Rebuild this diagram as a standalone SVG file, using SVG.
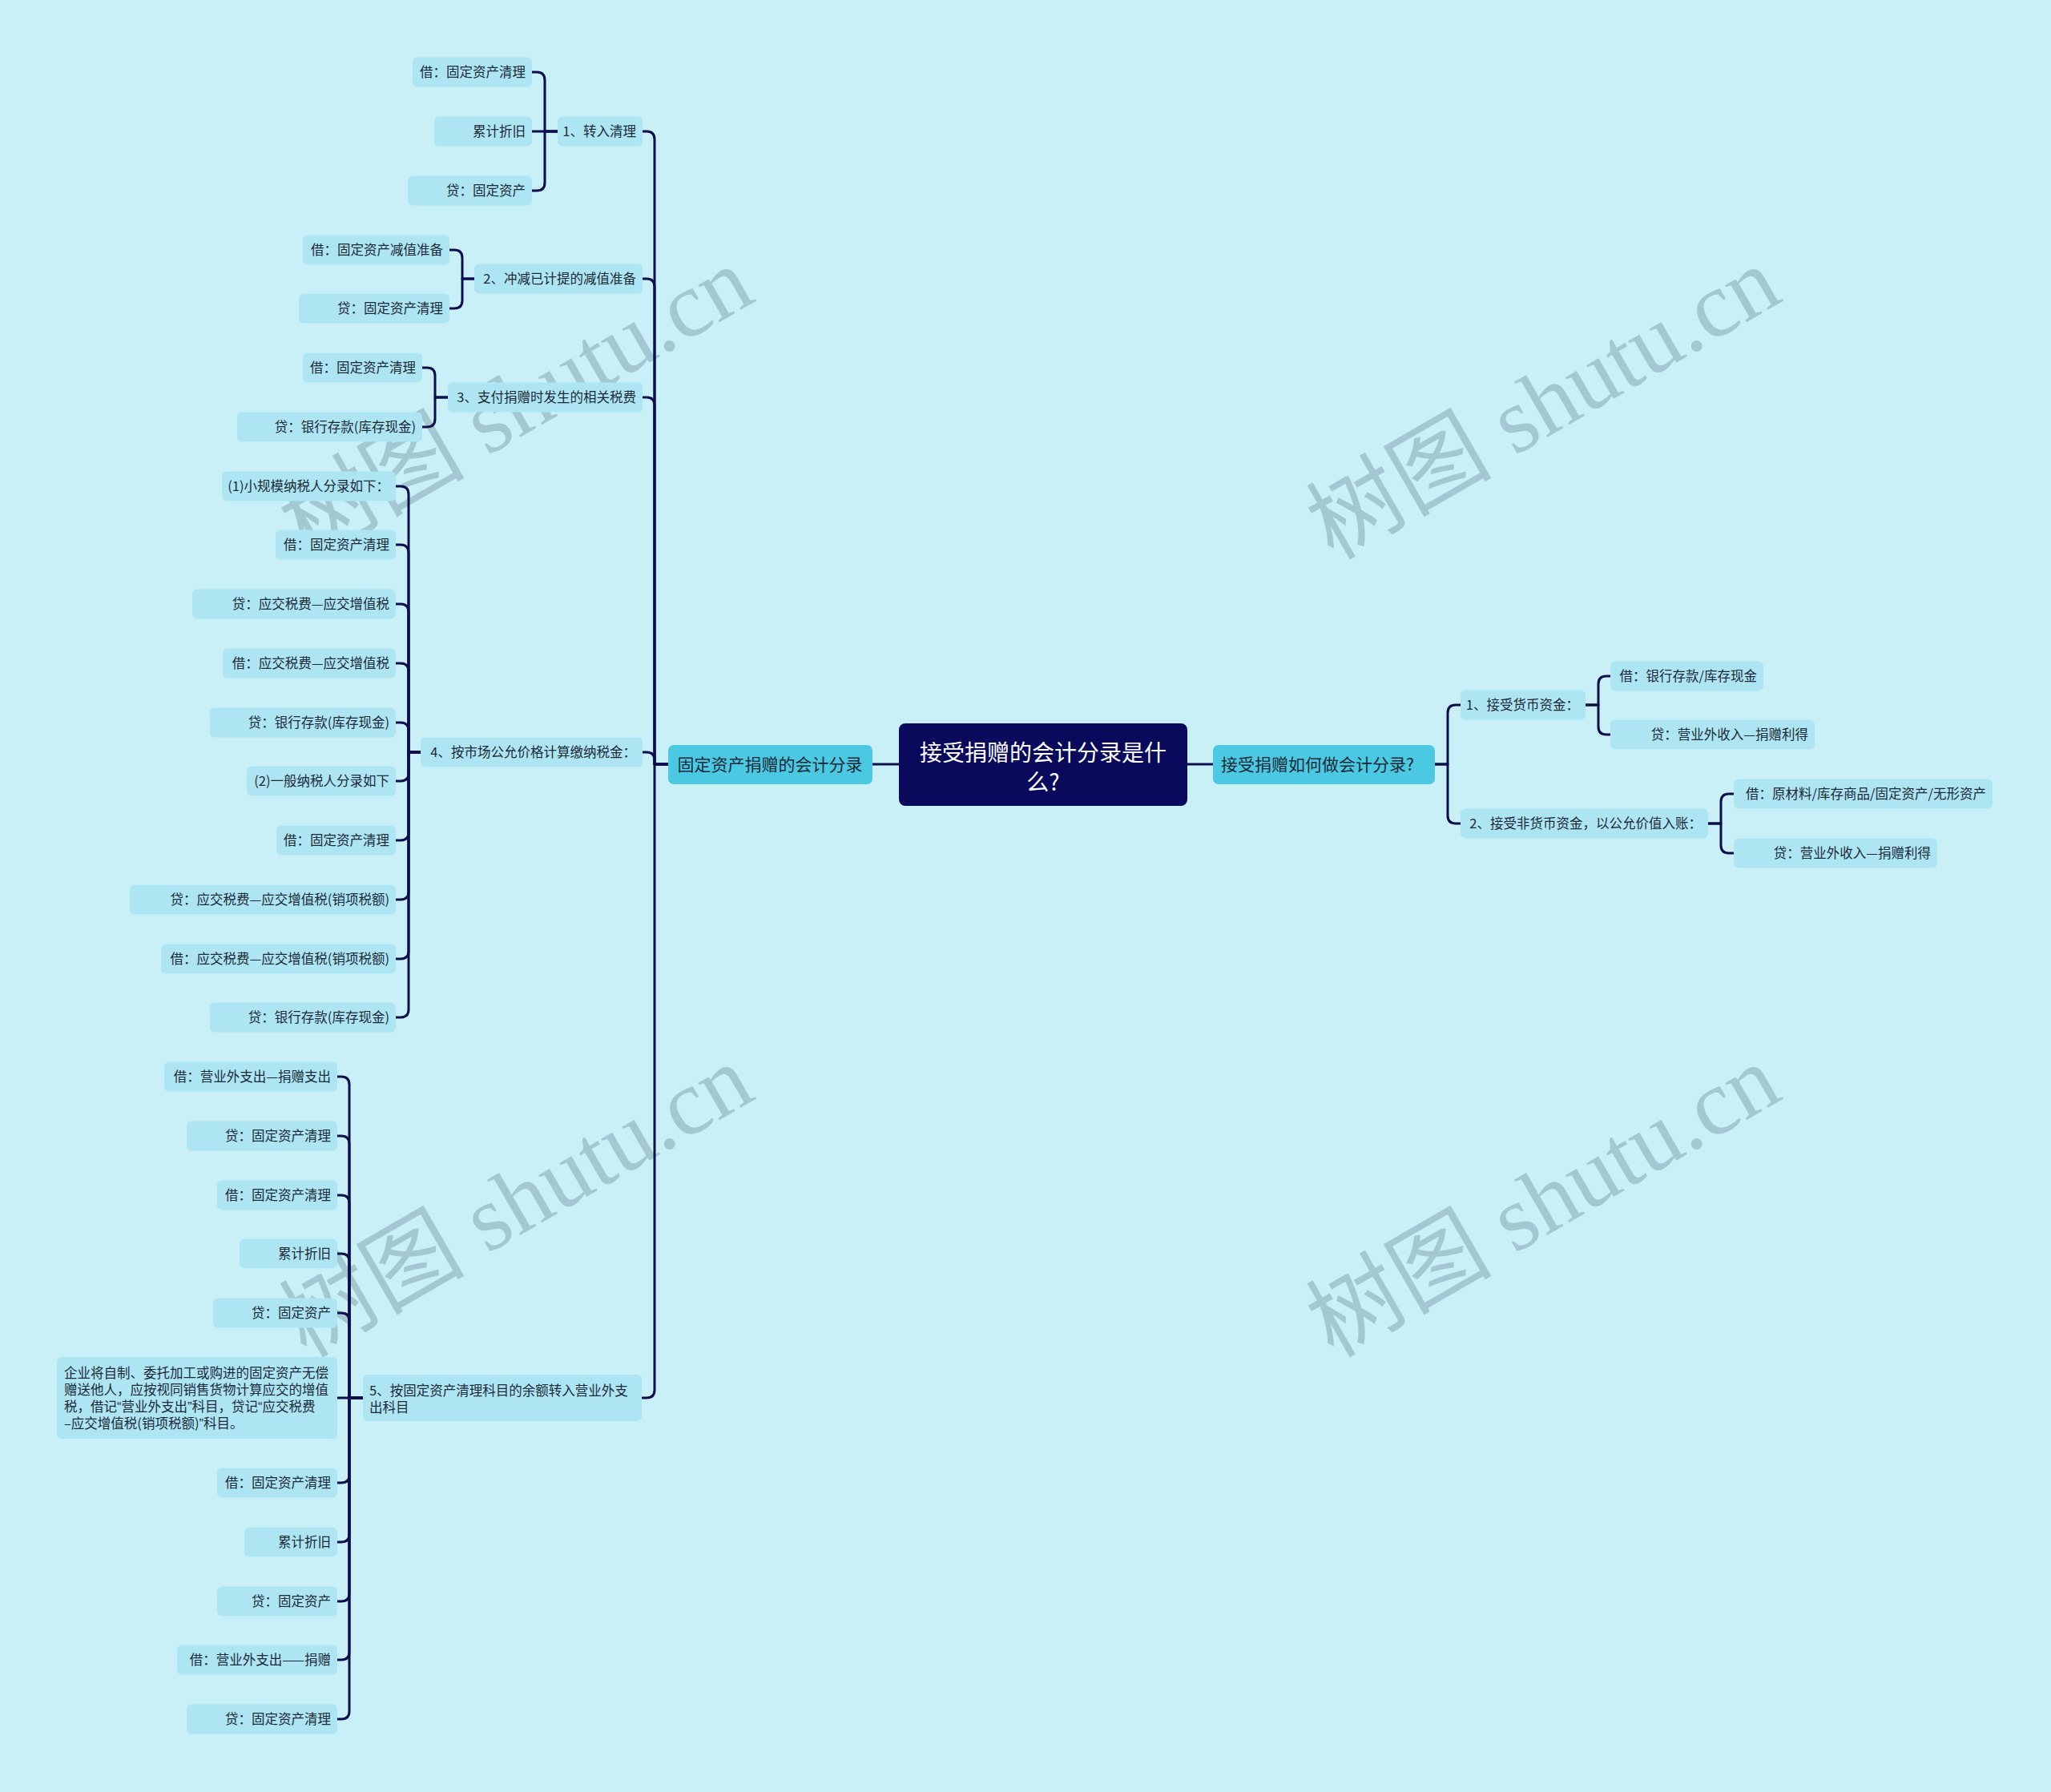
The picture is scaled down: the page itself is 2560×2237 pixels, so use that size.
<svg xmlns="http://www.w3.org/2000/svg" width="2560" height="2237" viewBox="0 0 2560 2237">
<style>
.bg{fill:#c9f0f7}
.leaf{fill:#aee5f2}
.l1{fill:#4cc9e2}
.root{fill:#0a0a5c}
.t{font-family:"Noto Sans CJK SC","Noto Sans",sans-serif;font-size:16.5px;fill:#1b2a38}
.te{text-anchor:end}
.q{font-family:"Liberation Sans",sans-serif}
.tl1{font-family:"Noto Sans CJK SC","Noto Sans",sans-serif;font-size:21px;fill:#1b2a38}
.tr{font-family:"Noto Sans CJK SC","Noto Sans",sans-serif;font-size:28px;fill:#ffffff;text-anchor:middle}
.c{fill:none;stroke:#0e0e4f;stroke-width:3;stroke-linecap:round;stroke-linejoin:round}
.wm{font-family:"Liberation Serif","Noto Sans CJK SC",serif;font-size:116px;fill:#a3c8d1}
</style>
<rect class="bg" x="0" y="0" width="2560" height="2237"/>

<g id="watermarks">
<text class="wm" x="382" y="700" transform="rotate(-30 382 700)">树图 shutu.cn</text>
<text class="wm" x="1664" y="700" transform="rotate(-30 1664 700)">树图 shutu.cn</text>
<text class="wm" x="382" y="1696" transform="rotate(-30 382 1696)">树图 shutu.cn</text>
<text class="wm" x="1664" y="1696" transform="rotate(-30 1664 1696)">树图 shutu.cn</text>
</g>

<g id="connectors">
<path class="c" d="M1089 954 H1122"/>
<path class="c" d="M1481 954 H1514"/>
<path class="c" d="M834 954 H817 V174 Q817 164 807 164 H802"/>
<path class="c" d="M834 954 H817 V358 Q817 348 807 348 H802"/>
<path class="c" d="M834 954 H817 V506 Q817 496 807 496 H802"/>
<path class="c" d="M834 954 H817 V949 Q817 939 807 939 H802"/>
<path class="c" d="M834 954 H817 V1735 Q817 1745 807 1745 H802"/>
<path class="c" d="M696 164 H680 V100 Q680 90 670 90 H664"/>
<path class="c" d="M696 164 H664"/>
<path class="c" d="M696 164 H680 V228 Q680 238 670 238 H664"/>
<path class="c" d="M592 348 H577 V322 Q577 312 567 312 H561"/>
<path class="c" d="M592 348 H577 V375 Q577 385 567 385 H561"/>
<path class="c" d="M559 496 H543 V469 Q543 459 533 459 H527"/>
<path class="c" d="M559 496 H543 V523 Q543 533 533 533 H527"/>
<path class="c" d="M525 939 H510 V617 Q510 607 500 607 H494"/>
<path class="c" d="M525 939 H510 V690 Q510 680 500 680 H494"/>
<path class="c" d="M525 939 H510 V764 Q510 754 500 754 H494"/>
<path class="c" d="M525 939 H510 V838 Q510 828 500 828 H494"/>
<path class="c" d="M525 939 H510 V912 Q510 902 500 902 H494"/>
<path class="c" d="M525 939 H510 V965 Q510 975 500 975 H494"/>
<path class="c" d="M525 939 H510 V1039 Q510 1049 500 1049 H494"/>
<path class="c" d="M525 939 H510 V1113 Q510 1123 500 1123 H494"/>
<path class="c" d="M525 939 H510 V1187 Q510 1197 500 1197 H494"/>
<path class="c" d="M525 939 H510 V1260 Q510 1270 500 1270 H494"/>
<path class="c" d="M453 1745 H436 V1354 Q436 1344 426 1344 H421"/>
<path class="c" d="M453 1745 H436 V1428 Q436 1418 426 1418 H421"/>
<path class="c" d="M453 1745 H436 V1502 Q436 1492 426 1492 H421"/>
<path class="c" d="M453 1745 H436 V1575 Q436 1565 426 1565 H421"/>
<path class="c" d="M453 1745 H436 V1649 Q436 1639 426 1639 H421"/>
<path class="c" d="M453 1745 H421"/>
<path class="c" d="M453 1745 H436 V1841 Q436 1851 426 1851 H421"/>
<path class="c" d="M453 1745 H436 V1915 Q436 1925 426 1925 H421"/>
<path class="c" d="M453 1745 H436 V1989 Q436 1999 426 1999 H421"/>
<path class="c" d="M453 1745 H436 V2062 Q436 2072 426 2072 H421"/>
<path class="c" d="M453 1745 H436 V2136 Q436 2146 426 2146 H421"/>
<path class="c" d="M1791 954 H1807 V890 Q1807 880 1817 880 H1823"/>
<path class="c" d="M1791 954 H1807 V1018 Q1807 1028 1817 1028 H1823"/>
<path class="c" d="M1979 880 H1995 V854 Q1995 844 2005 844 H2010"/>
<path class="c" d="M1979 880 H1995 V907 Q1995 917 2005 917 H2010"/>
<path class="c" d="M2132 1028 H2148 V1001 Q2148 991 2158 991 H2164"/>
<path class="c" d="M2132 1028 H2148 V1055 Q2148 1065 2158 1065 H2164"/>
</g>

<g id="root">
<rect class="root" x="1122" y="903" width="360" height="103" rx="8"/>
<text class="tr" x="1302" y="950">接受捐赠的会计分录是什</text>
<text class="tr" x="1302" y="987">么?</text>
</g>

<g id="n-left-l1">
<rect class="l1" x="834" y="930" width="255" height="49" rx="7"/>
<text class="tl1" x="961" y="962" text-anchor="middle">固定资产捐赠的会计分录</text>
</g>
<g id="n-right-l1">
<rect class="l1" x="1514" y="930" width="277" height="49" rx="7"/>
<text class="tl1" x="1524" y="962">接受捐赠如何做会计分录?</text>
</g>

<g id="a1"><rect class="leaf" x="696" y="145.5" width="106" height="37" rx="6"/><text class="t te" x="794" y="170">1、转入清理</text></g>
<g id="a2"><rect class="leaf" x="592" y="329.5" width="210" height="37" rx="6"/><text class="t te" x="794" y="354">2、冲减已计提的减值准备</text></g>
<g id="a3"><rect class="leaf" x="559" y="477.5" width="243" height="37" rx="6"/><text class="t te" x="794" y="502">3、支付捐赠时发生的相关税费</text></g>
<g id="a4"><rect class="leaf" x="525" y="920.5" width="277" height="37" rx="6"/><text class="t te" x="794" y="945">4、按市场公允价格计算缴纳税金：</text></g>
<g id="a5"><rect class="leaf" x="453" y="1716" width="348" height="58" rx="6"/>
<text class="t" x="461" y="1742">5、按固定资产清理科目的余额转入营业外支</text>
<text class="t" x="461" y="1763">出科目</text></g>

<g id="g1a"><rect class="leaf" x="515" y="71.5" width="149" height="37" rx="6"/><text class="t te" x="656" y="96">借：固定资产清理</text></g>
<g id="g1b"><rect class="leaf" x="542" y="145.5" width="122" height="37" rx="6"/><text class="t te" x="656" y="170">累计折旧</text></g>
<g id="g1c"><rect class="leaf" x="509" y="219.5" width="155" height="37" rx="6"/><text class="t te" x="656" y="244">贷：固定资产</text></g>

<g id="g2a"><rect class="leaf" x="378" y="293.5" width="183" height="37" rx="6"/><text class="t te" x="553" y="318">借：固定资产减值准备</text></g>
<g id="g2b"><rect class="leaf" x="373" y="366.5" width="188" height="37" rx="6"/><text class="t te" x="553" y="391">贷：固定资产清理</text></g>

<g id="g3a"><rect class="leaf" x="378" y="440.5" width="149" height="37" rx="6"/><text class="t te" x="519" y="465">借：固定资产清理</text></g>
<g id="g3b"><rect class="leaf" x="296" y="514.5" width="231" height="37" rx="6"/><text class="t te" x="519" y="539">贷：银行存款(库存现金)</text></g>

<g id="g4a"><rect class="leaf" x="277" y="588.5" width="217" height="37" rx="6"/><text class="t te" x="486" y="613">(1)小规模纳税人分录如下：</text></g>
<g id="g4b"><rect class="leaf" x="344" y="661.5" width="150" height="37" rx="6"/><text class="t te" x="486" y="686">借：固定资产清理</text></g>
<g id="g4c"><rect class="leaf" x="240" y="735.5" width="254" height="37" rx="6"/><text class="t te" x="486" y="760">贷：应交税费—应交增值税</text></g>
<g id="g4d"><rect class="leaf" x="278" y="809.5" width="216" height="37" rx="6"/><text class="t te" x="486" y="834">借：应交税费—应交增值税</text></g>
<g id="g4e"><rect class="leaf" x="262" y="883.5" width="232" height="37" rx="6"/><text class="t te" x="486" y="908">贷：银行存款(库存现金)</text></g>
<g id="g4f"><rect class="leaf" x="308" y="956.5" width="186" height="37" rx="6"/><text class="t te" x="486" y="981">(2)一般纳税人分录如下</text></g>
<g id="g4g"><rect class="leaf" x="345" y="1030.5" width="149" height="37" rx="6"/><text class="t te" x="486" y="1055">借：固定资产清理</text></g>
<g id="g4h"><rect class="leaf" x="162" y="1104.5" width="332" height="37" rx="6"/><text class="t te" x="486" y="1129">贷：应交税费—应交增值税(销项税额)</text></g>
<g id="g4i"><rect class="leaf" x="201" y="1178.5" width="293" height="37" rx="6"/><text class="t te" x="486" y="1203">借：应交税费—应交增值税(销项税额)</text></g>
<g id="g4j"><rect class="leaf" x="262" y="1251.5" width="232" height="37" rx="6"/><text class="t te" x="486" y="1276">贷：银行存款(库存现金)</text></g>

<g id="g5a"><rect class="leaf" x="205" y="1325.5" width="216" height="37" rx="6"/><text class="t te" x="413" y="1350">借：营业外支出—捐赠支出</text></g>
<g id="g5b"><rect class="leaf" x="233" y="1399.5" width="188" height="37" rx="6"/><text class="t te" x="413" y="1424">贷：固定资产清理</text></g>
<g id="g5c"><rect class="leaf" x="271" y="1473.5" width="150" height="37" rx="6"/><text class="t te" x="413" y="1498">借：固定资产清理</text></g>
<g id="g5d"><rect class="leaf" x="299" y="1546.5" width="122" height="37" rx="6"/><text class="t te" x="413" y="1571">累计折旧</text></g>
<g id="g5e"><rect class="leaf" x="266" y="1620.5" width="155" height="37" rx="6"/><text class="t te" x="413" y="1645">贷：固定资产</text></g>
<g id="g5f"><rect class="leaf" x="71" y="1694" width="350" height="102" rx="6"/>
<text class="t" x="80" y="1720">企业将自制、委托加工或购进的固定资产无偿</text>
<text class="t" x="80" y="1741">赠送他人，应按视同销售货物计算应交的增值</text>
<text class="t" x="80" y="1762">税，借记<tspan class="q">“</tspan>营业外支出<tspan class="q">”</tspan>科目，贷记<tspan class="q">“</tspan>应交税费</text>
<text class="t" x="80" y="1783">–应交增值税(销项税额)<tspan class="q">”</tspan>科目。</text></g>
<g id="g5g"><rect class="leaf" x="271" y="1832.5" width="150" height="37" rx="6"/><text class="t te" x="413" y="1857">借：固定资产清理</text></g>
<g id="g5h"><rect class="leaf" x="305" y="1906.5" width="116" height="37" rx="6"/><text class="t te" x="413" y="1931">累计折旧</text></g>
<g id="g5i"><rect class="leaf" x="271" y="1980.5" width="150" height="37" rx="6"/><text class="t te" x="413" y="2005">贷：固定资产</text></g>
<g id="g5j"><rect class="leaf" x="221" y="2053.5" width="200" height="37" rx="6"/><text class="t te" x="413" y="2078">借：营业外支出——捐赠</text></g>
<g id="g5k"><rect class="leaf" x="233" y="2127.5" width="188" height="37" rx="6"/><text class="t te" x="413" y="2152">贷：固定资产清理</text></g>

<g id="r1"><rect class="leaf" x="1823" y="861.5" width="156" height="37" rx="6"/><text class="t te" x="1971" y="886">1、接受货币资金：</text></g>
<g id="r2"><rect class="leaf" x="1823" y="1009.5" width="309" height="37" rx="6"/><text class="t te" x="2124" y="1034">2、接受非货币资金，以公允价值入账：</text></g>
<g id="r1a"><rect class="leaf" x="2010" y="825.5" width="191" height="37" rx="6"/><text class="t te" x="2193" y="850">借：银行存款/库存现金</text></g>
<g id="r1b"><rect class="leaf" x="2010" y="898.5" width="255" height="37" rx="6"/><text class="t te" x="2257" y="923">贷：营业外收入—捐赠利得</text></g>
<g id="r2a"><rect class="leaf" x="2164" y="972.5" width="323" height="37" rx="6"/><text class="t te" x="2479" y="997">借：原材料/库存商品/固定资产/无形资产</text></g>
<g id="r2b"><rect class="leaf" x="2164" y="1046.5" width="254" height="37" rx="6"/><text class="t te" x="2410" y="1071">贷：营业外收入—捐赠利得</text></g>
</svg>
